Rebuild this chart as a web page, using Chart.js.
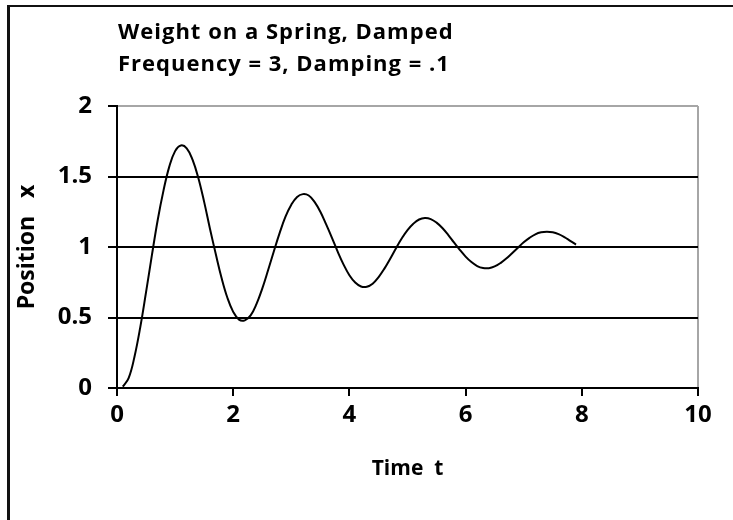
<!DOCTYPE html>
<html>
<head>
<meta charset="utf-8">
<script src="https://cdn.jsdelivr.net/npm/chart.js@4.4.1/dist/chart.umd.min.js"></script>
<style>
    body { margin: 0; background: #fff; }
    #wrap { position: relative; width: 733px; height: 520px; }
    #frame {
        position: absolute; left: 7px; top: 5px; right: 0; bottom: 0;
        border-top: 2px solid #111; border-left: 3px solid #111;
        pointer-events: none;
    }
</style>
</head>
<body>
<div id="wrap">
    <canvas id="springChart" width="733" height="520"></canvas>
    <div id="frame"></div>
</div>
<script>
    // Chart data
    const titleLines = ['Weight on a Spring, Damped', 'Frequency = 3, Damping = .1'];
    const xTitle = 'Time  t';
    const yTitle = 'Position   x';

    const times = [0.1, 0.2, 0.3, 0.4, 0.5, 0.6, 0.7, 0.8, 0.9, 1.0,
        1.1, 1.2, 1.3, 1.4, 1.5, 1.6, 1.7, 1.8, 1.9, 2.0,
        2.1, 2.2, 2.3, 2.4, 2.5, 2.6, 2.7, 2.8, 2.9, 3.0,
        3.1, 3.2, 3.3, 3.4, 3.5, 3.6, 3.7, 3.8, 3.9, 4.0,
        4.1, 4.2, 4.3, 4.4, 4.5, 4.6, 4.7, 4.8, 4.9, 5.0,
        5.1, 5.2, 5.3, 5.4, 5.5, 5.6, 5.7, 5.8, 5.9, 6.0,
        6.1, 6.2, 6.3, 6.4, 6.5, 6.6, 6.7, 6.8, 6.9, 7.0,
        7.1, 7.2, 7.3, 7.4, 7.5, 7.6, 7.7, 7.8, 7.9];

    const positions = [0.01, 0.07, 0.22, 0.43, 0.68, 0.94, 1.19, 1.40, 1.57, 1.68,
        1.72, 1.70, 1.62, 1.49, 1.32, 1.13, 0.95, 0.78, 0.64, 0.54,
        0.485, 0.48, 0.515, 0.595, 0.705, 0.835, 0.97, 1.10, 1.215, 1.30,
        1.355, 1.375, 1.365, 1.32, 1.25, 1.16, 1.065, 0.965, 0.875, 0.80,
        0.748, 0.72, 0.718, 0.74, 0.785, 0.845, 0.915, 0.99, 1.06, 1.12,
        1.165, 1.195, 1.205, 1.198, 1.173, 1.135, 1.086, 1.032, 0.98, 0.932,
        0.893, 0.865, 0.851, 0.85, 0.862, 0.886, 0.918, 0.956, 0.995, 1.033,
        1.065, 1.09, 1.104, 1.108, 1.104, 1.091, 1.07, 1.044, 1.017];

    const xTicks = [0, 2, 4, 6, 8, 10];
    const yTicks = [0, 0.5, 1, 1.5, 2];

    const FONT = '"Open Sans", Lato, sans-serif';

    // Title drawn at the top-left, like the original sheet
    const titlePlugin = {
        id: 'sheetTitle',
        afterDraw(chart) {
            const ctx = chart.ctx;
            ctx.save();
            ctx.fillStyle = '#000';
            ctx.font = 'bold 22px ' + FONT;
            ctx.letterSpacing = '1px';
            ctx.textBaseline = 'middle';
            ctx.textAlign = 'left';
            titleLines.forEach((line, i) => {
                ctx.fillText(line, 118, 33 + i * 32);
            });
            ctx.restore();
        }
    };

    document.addEventListener('DOMContentLoaded', function() {
        const ctx = document.getElementById('springChart').getContext('2d');
        const springChart = new Chart(ctx, {
            type: 'line',
            data: {
                datasets: [{
                    data: times.map((t, i) => ({ x: t, y: positions[i] })),
                    borderColor: '#000',
                    borderWidth: 2,
                    pointRadius: 0,
                    tension: 0.4,
                    fill: false
                }]
            },
            options: {
                responsive: false,
                animation: false,
                layout: { padding: { left: 0, top: 106, right: 35, bottom: 0 } },
                plugins: {
                    legend: { display: false },
                    tooltip: { enabled: false }
                },
                scales: {
                    x: {
                        type: 'linear',
                        min: 0,
                        max: 10,
                        afterBuildTicks: scale => { scale.ticks = xTicks.map(v => ({ value: v })); },
                        afterFit: scale => { scale.height = 132; },
                        border: { color: '#000', width: 2 },
                        grid: {
                            color: c => (c.tick && c.tick.value === 10 ? '#a6a6a6' : 'rgba(0,0,0,0)'),
                            lineWidth: 2,
                            tickColor: '#000',
                            tickLength: 8
                        },
                        ticks: {
                            color: '#000',
                            padding: 5,
                            maxRotation: 0,
                            callback: v => String(v),
                            font: { family: FONT, size: 24, weight: 'bold' }
                        },
                        title: {
                            display: true,
                            text: xTitle,
                            color: '#000',
                            padding: { top: 0, bottom: 38 },
                            font: { family: FONT, size: 21, weight: 'bold' }
                        }
                    },
                    y: {
                        min: 0,
                        max: 2,
                        afterBuildTicks: scale => { scale.ticks = yTicks.map(v => ({ value: v })); },
                        afterFit: scale => { scale.width = 117; },
                        border: { color: '#000', width: 2 },
                        grid: {
                            color: c => (c.tick && c.tick.value === 2 ? '#a6a6a6' : '#000'),
                            lineWidth: 2,
                            tickColor: '#000',
                            tickLength: 9
                        },
                        ticks: {
                            color: '#000',
                            padding: 16,
                            callback: v => String(v),
                            font: { family: FONT, size: 24, weight: 'bold' }
                        },
                        title: {
                            display: true,
                            text: yTitle,
                            color: '#000',
                            padding: { top: 14 },
                            font: { family: FONT, size: 23, weight: 'bold' }
                        }
                    }
                }
            },
            plugins: [titlePlugin]
        });
    });
</script>
</body>
</html>
